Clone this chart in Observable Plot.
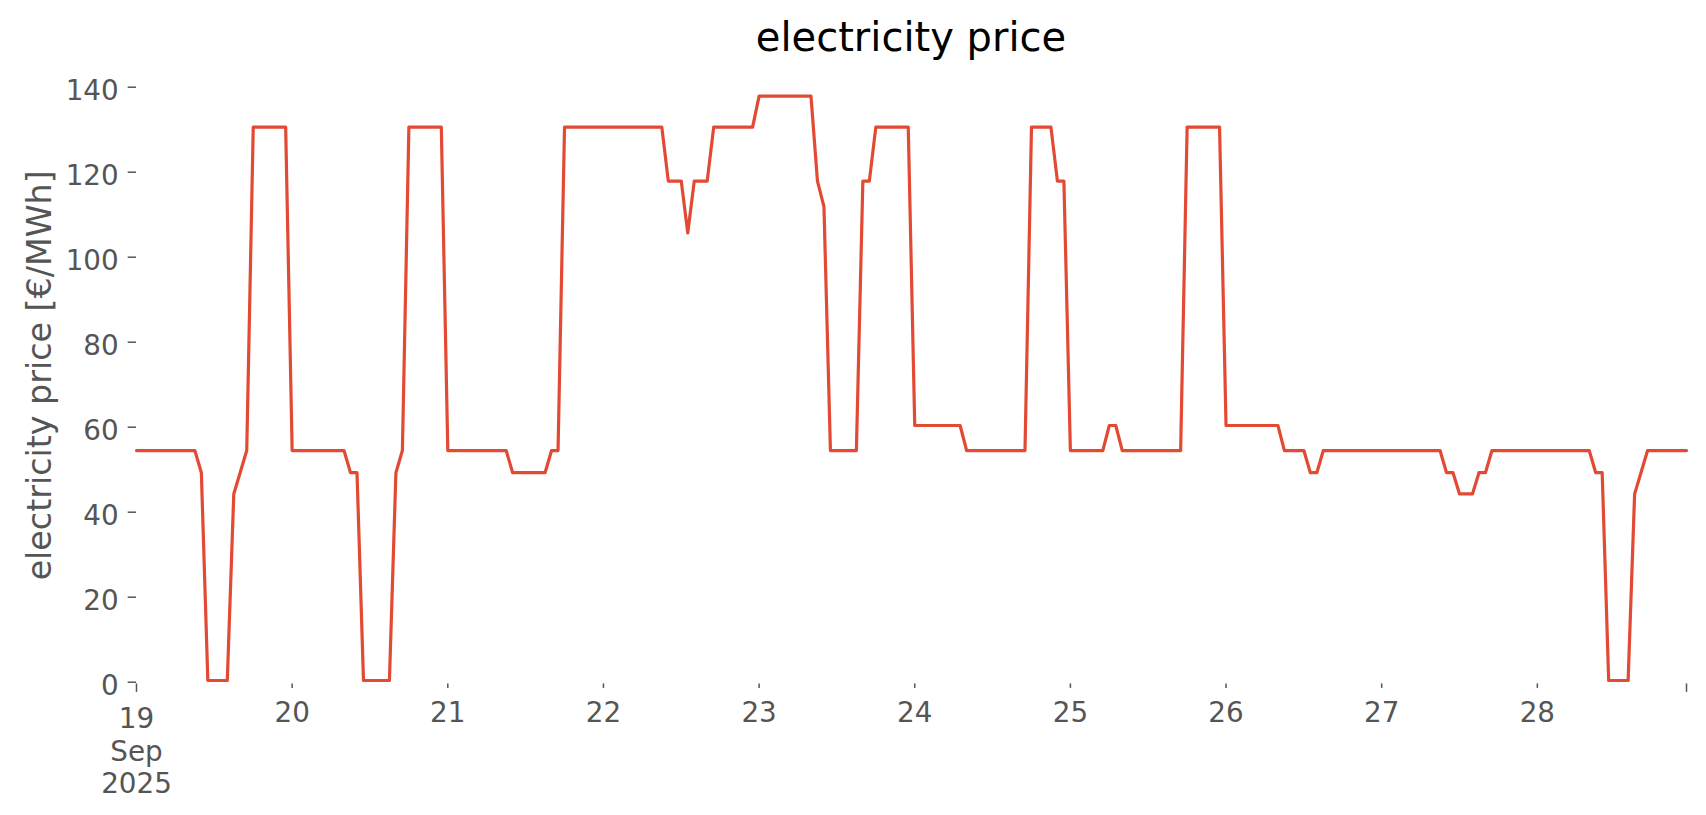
<!DOCTYPE html>
<html>
<head>
<meta charset="utf-8">
<script src="https://cdn.jsdelivr.net/npm/d3@7"></script>
<script src="https://cdn.jsdelivr.net/npm/@observablehq/plot@0.6"></script>
<style>
html, body { margin: 0; padding: 0; background: #ffffff; }
#chart { width: 1706px; height: 815px; overflow: hidden; background: #ffffff; }
#title { box-sizing: border-box; height: 60px; padding: 17px 20px 0 136px; font-family: "DejaVu Sans"; font-size: 40px; line-height: 40px; color: #000000; text-align: center; white-space: nowrap; }
</style>
</head>
<body>
<div id="chart"><div id="title"></div></div>
<script>
// ---- text ----
const chartTitle = "electricity price";
const yLabel = "electricity price [€/MWh]";

// ---- hourly prices (€/MWh), one array per day, 00:00 .. 23:00 ----
const sep19 = [54.5,54.5,54.5,54.5,54.5,54.5,54.5,54.5,54.5,54.5,49.3,0.4,0.4,0.4,0.4,44.3,49.4,54.5,130.6,130.6,130.6,130.6,130.6,130.6];
const sep20 = [54.5,54.5,54.5,54.5,54.5,54.5,54.5,54.5,54.5,49.3,49.3,0.4,0.4,0.4,0.4,0.4,49.3,54.5,130.6,130.6,130.6,130.6,130.6,130.6];
const sep21 = [54.5,54.5,54.5,54.5,54.5,54.5,54.5,54.5,54.5,54.5,49.3,49.3,49.3,49.3,49.3,49.3,54.5,54.5,130.6,130.6,130.6,130.6,130.6,130.6];
const sep22 = [130.6,130.6,130.6,130.6,130.6,130.6,130.6,130.6,130.6,130.6,117.9,117.9,117.9,105.7,117.9,117.9,117.9,130.6,130.6,130.6,130.6,130.6,130.6,130.6];
const sep23 = [137.9,137.9,137.9,137.9,137.9,137.9,137.9,137.9,137.9,117.9,111.9,54.5,54.5,54.5,54.5,54.5,117.9,117.9,130.6,130.6,130.6,130.6,130.6,130.6];
const sep24 = [60.4,60.4,60.4,60.4,60.4,60.4,60.4,60.4,54.5,54.5,54.5,54.5,54.5,54.5,54.5,54.5,54.5,54.5,130.6,130.6,130.6,130.6,117.9,117.9];
const sep25 = [54.5,54.5,54.5,54.5,54.5,54.5,60.4,60.4,54.5,54.5,54.5,54.5,54.5,54.5,54.5,54.5,54.5,54.5,130.6,130.6,130.6,130.6,130.6,130.6];
const sep26 = [60.4,60.4,60.4,60.4,60.4,60.4,60.4,60.4,60.4,54.5,54.5,54.5,54.5,49.3,49.3,54.5,54.5,54.5,54.5,54.5,54.5,54.5,54.5,54.5];
const sep27 = [54.5,54.5,54.5,54.5,54.5,54.5,54.5,54.5,54.5,54.5,49.3,49.3,44.3,44.3,44.3,49.3,49.3,54.5,54.5,54.5,54.5,54.5,54.5,54.5];
const sep28 = [54.5,54.5,54.5,54.5,54.5,54.5,54.5,54.5,54.5,49.3,49.3,0.4,0.4,0.4,0.4,44.3,49.4,54.5,54.5,54.5,54.5,54.5,54.5,54.5];

// ---- axis ticks / labels ----
const yTicks = [0, 20, 40, 60, 80, 100, 120, 140];
const minorDayLabels = ["20", "21", "22", "23", "24", "25", "26", "27", "28"];
const majorLabel = "19\nSep\n2025";

// ---- build table ----
const days = [sep19, sep20, sep21, sep22, sep23, sep24, sep25, sep26, sep27, sep28];
const prices = days.flat();
const start = new Date(Date.UTC(2025, 8, 19, 0));
const table = prices.map((p, i) => ({date: new Date(Date.UTC(2025, 8, 19, i)), price: p}));
const end = table[table.length - 1].date;
const minorTicks = minorDayLabels.map(d => new Date(Date.UTC(2025, 8, +d)));
const majorTicks = [start, end];

document.getElementById("title").textContent = chartTitle;

const grey = "#555555";
const plot = Plot.plot({
  width: 1706,
  height: 755,
  marginLeft: 136,
  marginRight: 20,
  marginTop: 6.3,
  marginBottom: 131.6,
  style: {fontFamily: "'DejaVu Sans'", color: grey, background: "#ffffff", overflow: "visible"},
  x: {type: "utc", domain: [start, end], label: null},
  y: {domain: [-0.4, 144.8], label: null},
  marks: [
    Plot.axisY(yTicks, {tickSize: 8.3, strokeWidth: 1.5, text: null, label: null}),
    Plot.axisY(yTicks, {tickSize: 0, tickPadding: 17.8, fontSize: 27.8, dy: 3.5, label: null}),
    Plot.axisX(majorTicks, {tickSize: 8.5, tickPadding: 13, fontSize: 27.8, lineHeight: 1.16, strokeWidth: 1.5, label: null,
      tickFormat: d => (+d === +start ? majorLabel : "")}),
    Plot.axisX(minorTicks, {tickSize: 4.5, tickPadding: 13.5, fontSize: 27.8, strokeWidth: 1.5, label: null,
      tickFormat: d => String(d.getUTCDate())}),
    Plot.text([{label: yLabel}], {text: "label", frameAnchor: "left", textAnchor: "middle", rotate: -90, dx: -96, fontSize: 33.3, fill: grey}),
    Plot.line(table, {x: "date", y: "price", stroke: "#E24A33", strokeWidth: 3.2})
  ]
});
document.getElementById("chart").appendChild(plot);
</script>
</body>
</html>
